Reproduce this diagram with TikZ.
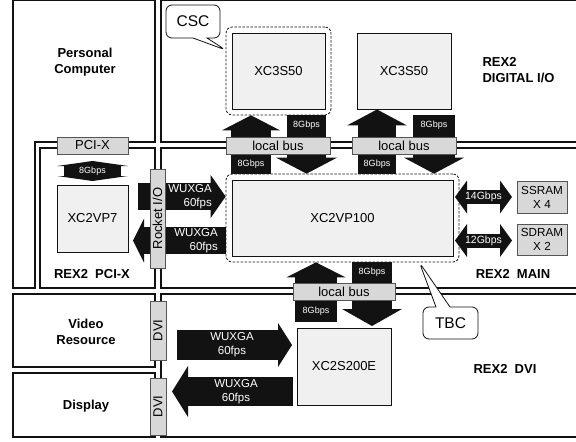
\documentclass[tikz,border=0pt]{standalone}
\usepackage{fontspec}
\setmainfont{Liberation Sans}
\usetikzlibrary{positioning, arrows.meta, fit, shapes.callouts}
\definecolor{cChip}{HTML}{F0F0F0}
\definecolor{cTag}{HTML}{D8D8D8}
\definecolor{cEdge}{HTML}{555555}
\definecolor{cInk}{HTML}{121212}

\begin{document}
\begin{tikzpicture}[
    x=1pt, y=-1pt,
    board/.style={draw=cInk, line width=1.1pt},
    chip/.style={
        draw=cInk, fill=cChip, line width=0.9pt, inner sep=0pt,
        font=\fontsize{13}{15}\selectfont
    },
    tag/.style={
        draw=cEdge, fill=cTag, line width=0.8pt, inner sep=0pt,
        align=center, font=\fontsize{13}{15}\selectfont
    },
    grp/.style={draw=cInk, line width=0.8pt, dash pattern=on 2.5pt off 1.5pt,
        rounded corners=6pt, inner sep=5.5pt},
    balloon/.style={rectangle callout, draw=cInk, fill=white, line width=0.8pt,
        rounded corners=6pt, callout pointer width=14pt,
        font=\fontsize{15.5}{17}\selectfont},
    lbl/.style={font=\fontsize{13}{16.5}\selectfont\bfseries, align=center},
    wt/.style={text=white, inner sep=0pt, font=\fontsize{11.5}{14}\selectfont},
    rate/.style={text=white, inner sep=0pt, font=\fontsize{9}{10}\selectfont},
    fat/.style n args={3}{draw=cInk, line width=#1,
        -{Triangle[width=#2, length=#3, line width=0pt]}},
    dfat/.style n args={3}{draw=cInk, line width=#1,
        {Triangle[width=#2, length=#3, line width=0pt]}-{Triangle[width=#2, length=#3, line width=0pt]}},
]
\useasboundingbox (0,0) rectangle (576,442);

% =============================================
% BOARDS (white gaps between them act as buses)
% =============================================

% PC, with the slot channel going down to the PCI-X card
\draw[board] (13,0.3) -- (155,0.3) -- (155,142) -- (35,142) -- (35,288) -- (13,288) -- cycle;
\draw[board] (40,148) rectangle (155,288);
\draw[board] (161,0.3) rectangle (590,142);
\draw[board] (161,148) rectangle (590,288);
\draw[board] (13,294) rectangle (155,367);
\draw[board] (13,373) rectangle (155,437);
\draw[board] (161,294) rectangle (590,437);

\node[lbl] (pcname) at (85,62) {Personal\\Computer};
\node[lbl, align=left, anchor=west] (dioname) at (479,70) {REX2\\DIGITAL I/O};
\node[lbl] (pciname) at (92,274) {REX2\ \ PCI-X};
\node[lbl] (mainname) at (513,274) {REX2\ \ MAIN};
\node[lbl] (vidname) at (86,332) {Video\\Resource};
\node[lbl] (dispname) at (86,406) {Display};
\node[lbl] (dviname) at (505,369) {REX2\ \ DVI};

% =============================================
% FPGAs
% =============================================

\node[chip, minimum width=93pt, minimum height=76pt] (xcA) at (278.5,71) {XC3S50};
\node[chip, minimum width=94pt, minimum height=76pt] (xcB) at (404,71) {XC3S50};
\node[chip, minimum width=221pt, minimum height=76pt] (vp100) at (342.5,218) {XC2VP100};
\node[chip, minimum width=71pt, minimum height=67pt] (vp7) at (92.5,218.5) {XC2VP7};
\node[chip, minimum width=94pt, minimum height=77pt] (s200e) at (344,366.5) {XC2S200E};

\node[grp, fit=(xcA)] (csc) {};
\node[grp, fit=(vp100)] (tbc) {};

% =============================================
% LOCAL BUS ARROWS (one column up, one down)
% =============================================

\coordinate (cA) at (251,0);
\coordinate (cB) at (306.5,0);
\coordinate (cC) at (377,0);
\coordinate (cD) at (434,0);
\coordinate (cEfoot) at (316,322);
\coordinate (cFtip) at (372,326);

\draw[fat={40pt}{58pt}{15pt}] (tbc.north -| cA) -- (csc.south -| cA);
\draw[fat={39pt}{61pt}{16pt}] (csc.south -| cB) -- (tbc.north -| cB);
\draw[fat={38pt}{60pt}{16pt}] (tbc.north -| cC) -- (xcB.south -| cC);
\draw[fat={42pt}{60pt}{16pt}] (csc.south -| cD) -- (tbc.north -| cD);
\draw[fat={42pt}{59pt}{15pt}] (cEfoot) -- (tbc.south -| cEfoot);
\draw[fat={40pt}{60pt}{17pt}] (tbc.south -| cFtip) -- (cFtip);

% =============================================
% VIDEO STREAMS
% =============================================

\coordinate (r1tail) at (138,196.5);
\coordinate (r2tip) at (133,240.5);
\coordinate (r3tail) at (177,345);
\coordinate (r3tip) at (292,345);
\coordinate (r4tail) at (293,391.5);
\coordinate (r4tip) at (172,391.5);

\draw[fat={27pt}{43pt}{15pt}] (r1tail) -- (tbc.west |- r1tail);
\draw[fat={27pt}{44pt}{11pt}] (tbc.west |- r2tip) -- (r2tip);
\draw[fat={30pt}{44pt}{14pt}] (r3tail) -- (r3tip);
\draw[fat={29pt}{51pt}{16pt}] (r4tail) -- (r4tip);

\node[wt, align=right, anchor=east] (r1txt) at (212,197) {WUXGA\\60fps};
\node[wt, align=right, anchor=east] (r2txt) at (218,241) {WUXGA\\60fps};
\node[wt, align=center] (r3txt) at (232,345) {WUXGA\\60fps};
\node[wt, align=center] (r4txt) at (236,392) {WUXGA\\60fps};

% =============================================
% MEMORY + PCI-X LINKS
% =============================================

\coordinate (pciTop) at (92.5,161);
\coordinate (pciBot) at (92.5,181);
\coordinate (m14a) at (455,197);
\coordinate (m14b) at (512,197);
\coordinate (m12a) at (455,240.5);
\coordinate (m12b) at (512,240.5);

\draw[dfat={57pt}{71pt}{5pt}] (pciTop) -- (pciBot);
\draw[dfat={14pt}{33pt}{12pt}] (m14a) -- (m14b);
\draw[dfat={14pt}{33pt}{12pt}] (m12a) -- (m12b);

% =============================================
% BUS / CONNECTOR TAGS
% =============================================

\node[tag, minimum width=71pt, minimum height=17pt] (pcix) at (92.5,145.5) {PCI-X};
\node[tag, minimum width=104pt, minimum height=17pt] (busA) at (278,145.5) {local bus};
\node[tag, minimum width=104pt, minimum height=17pt] (busB) at (404,145.5) {local bus};
\node[tag, minimum width=102pt, minimum height=17pt] (busC) at (344,291.5) {local bus};
\node[tag, rotate=90, minimum width=99pt, minimum height=15pt] (rocket) at (157.5,218.5) {Rocket I/O};
\node[tag, rotate=90, minimum width=59pt, minimum height=16pt] (dviA) at (158,330.5) {DVI};
\node[tag, rotate=90, minimum width=57pt, minimum height=16pt] (dviB) at (158,406.5) {DVI};
\node[tag, minimum width=50pt, minimum height=32pt,
      font=\fontsize{11.7}{14}\selectfont] (ssram) at (542,197) {SSRAM\\X 4};
\node[tag, minimum width=50pt, minimum height=31pt,
      font=\fontsize{11.7}{14}\selectfont] (sdram) at (542,239.5) {SDRAM\\X 2};

% bandwidth labels
\node[rate] (gA) at (251,164.5) {8Gbps};
\node[rate] (gB) at (306.5,125.5) {8Gbps};
\node[rate] (gC) at (377,164.5) {8Gbps};
\node[rate] (gD) at (434,125.5) {8Gbps};
\node[rate] (gE) at (316,311.5) {8Gbps};
\node[rate] (gF) at (372,272.5) {8Gbps};
\node[rate] (gP) at (92.5,171) {8Gbps};
\node[rate, font=\fontsize{10.5}{11}\selectfont] (g14) at (483.5,197) {14Gbps};
\node[rate, font=\fontsize{10.5}{11}\selectfont] (g12) at (483.5,240.5) {12Gbps};

% =============================================
% CALLOUTS
% =============================================

\node[balloon, minimum width=54pt, minimum height=33pt,
      callout absolute pointer={([yshift=21pt]csc.west)}] (cscnote) at (193,21.5) {CSC};
\node[balloon, minimum width=55pt, minimum height=32pt,
      callout absolute pointer={([xshift=-40pt]tbc.south east)}] (tbcnote) at (450.5,323) {TBC};

\end{tikzpicture}
\end{document}
